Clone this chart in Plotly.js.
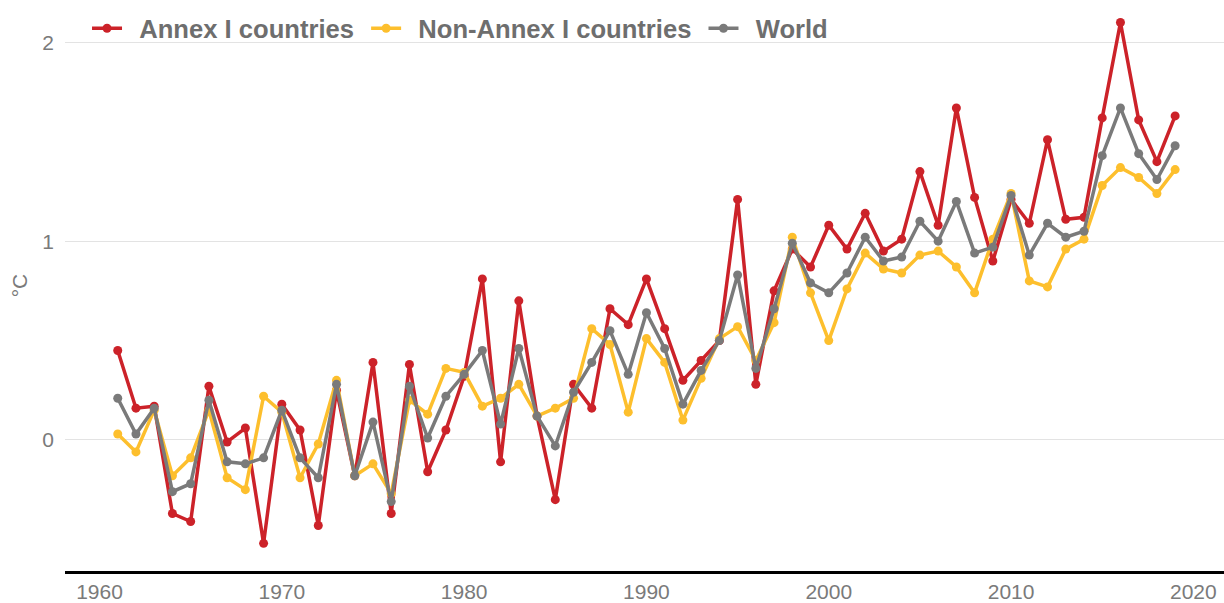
<!DOCTYPE html>
<html>
<head>
<meta charset="utf-8">
<script src="https://cdn.plot.ly/plotly-3.0.1.min.js"></script>
<style>
  html, body { margin: 0; padding: 0; background: #ffffff; }
  #chart { width: 1224px; height: 603px; }
</style>
</head>
<body>
<div id="chart"></div>
<script>
const years = [
  1961, 1962, 1963, 1964, 1965, 1966, 1967, 1968, 1969, 1970,
  1971, 1972, 1973, 1974, 1975, 1976, 1977, 1978, 1979, 1980,
  1981, 1982, 1983, 1984, 1985, 1986, 1987, 1988, 1989, 1990,
  1991, 1992, 1993, 1994, 1995, 1996, 1997, 1998, 1999, 2000,
  2001, 2002, 2003, 2004, 2005, 2006, 2007, 2008, 2009, 2010,
  2011, 2012, 2013, 2014, 2015, 2016, 2017, 2018, 2019
];

const annexI = [
  0.45, 0.16, 0.17, -0.37, -0.41, 0.27, -0.01, 0.06, -0.52, 0.18,
  0.05, -0.43, 0.25, -0.18, 0.39, -0.37, 0.38, -0.16, 0.05, 0.32,
  0.81, -0.11, 0.70, 0.12, -0.30, 0.28, 0.16, 0.66, 0.58, 0.81,
  0.56, 0.30, 0.40, 0.50, 1.21, 0.28, 0.75, 0.96, 0.87, 1.08,
  0.96, 1.14, 0.95, 1.01, 1.35, 1.08, 1.67, 1.22, 0.90, 1.21,
  1.09, 1.51, 1.11, 1.12, 1.62, 2.10, 1.61, 1.40, 1.63
];

const nonAnnexI = [
  0.03, -0.06, 0.15, -0.18, -0.09, 0.15, -0.19, -0.25, 0.22, 0.14,
  -0.19, -0.02, 0.30, -0.18, -0.12, -0.27, 0.20, 0.13, 0.36, 0.34,
  0.17, 0.21, 0.28, 0.12, 0.16, 0.21, 0.56, 0.48, 0.14, 0.51,
  0.39, 0.10, 0.31, 0.51, 0.57, 0.40, 0.59, 1.02, 0.74, 0.50,
  0.76, 0.94, 0.86, 0.84, 0.93, 0.95, 0.87, 0.74, 1.01, 1.24,
  0.80, 0.77, 0.96, 1.01, 1.28, 1.37, 1.32, 1.24, 1.36
];

const world = [
  0.21, 0.03, 0.16, -0.26, -0.22, 0.20, -0.11, -0.12, -0.09, 0.15,
  -0.09, -0.19, 0.28, -0.18, 0.09, -0.31, 0.27, 0.01, 0.22, 0.33,
  0.45, 0.08, 0.46, 0.12, -0.03, 0.24, 0.39, 0.55, 0.33, 0.64,
  0.46, 0.18, 0.35, 0.50, 0.83, 0.36, 0.66, 0.99, 0.79, 0.74,
  0.84, 1.02, 0.90, 0.92, 1.10, 1.00, 1.20, 0.94, 0.97, 1.23,
  0.93, 1.09, 1.02, 1.05, 1.43, 1.67, 1.44, 1.31, 1.48
];

const seriesNames = ['Annex I countries', 'Non-Annex I countries', 'World'];
const seriesColors = ['#CC2229', '#FDBF2D', '#7A7A7A'];
const seriesValues = [annexI, nonAnnexI, world];

const xTickVals = [1960, 1970, 1980, 1990, 2000, 2010, 2020];
const xTickText = ['1960', '1970', '1980', '1990', '2000', '2010', '2020'];
const yTickVals = [0, 1, 2];
const yTickText = ['0', '1', '2'];

// padding spaces around legend labels to mimic ggplot legend spacing
const padL = '\u00a0\u2009';
const padR = '\u00a0';

const traces = seriesNames.map((name, i) => ({
  type: 'scatter',
  mode: 'lines+markers',
  name: padL + name + padR,
  x: years,
  y: seriesValues[i],
  line: { color: seriesColors[i], width: 3.5 },
  marker: { color: seriesColors[i], size: 9 },
  hovertemplate: name + ': %{y:.2f} °C (%{x})<extra></extra>'
}));

const textGray = '#7a7a7a';

const layout = {
  width: 1224,
  height: 603,
  paper_bgcolor: '#ffffff',
  plot_bgcolor: '#ffffff',
  margin: { l: 65, r: 0, t: 0, b: 32 },
  font: { family: 'Liberation Sans, Arial, sans-serif', color: textGray },
  showlegend: true,
  legend: {
    orientation: 'h',
    x: 0.019,
    xanchor: 'left',
    y: 0.991,
    yanchor: 'top',
    bgcolor: 'rgba(0,0,0,0)',
    font: { size: 25.6, color: '#6e6e6e', weight: 'bold', family: 'Liberation Sans, Arial, sans-serif' },
    itemwidth: 30,
    tracegroupgap: 0
  },
  xaxis: {
    range: [1958.107, 2021.68],
    tickvals: xTickVals,
    ticktext: xTickText,
    ticks: '',
    showgrid: false,
    zeroline: false,
    showline: true,
    linecolor: '#000000',
    linewidth: 2.6,
    tickfont: { size: 21, color: textGray },
    ticklabelstandoff: 0
  },
  yaxis: {
    range: [-0.659, 2.213],
    tickvals: yTickVals,
    ticktext: yTickText,
    ticks: '',
    showgrid: true,
    gridcolor: '#e3e3e3',
    gridwidth: 1,
    zeroline: false,
    showline: false,
    tickfont: { size: 21, color: textGray },
    ticklabelstandoff: 10,
    title: { text: '°C', font: { size: 21, color: textGray }, standoff: 8 }
  }
};

Plotly.newPlot('chart', traces, layout, { displayModeBar: false, responsive: false });
</script>
</body>
</html>
